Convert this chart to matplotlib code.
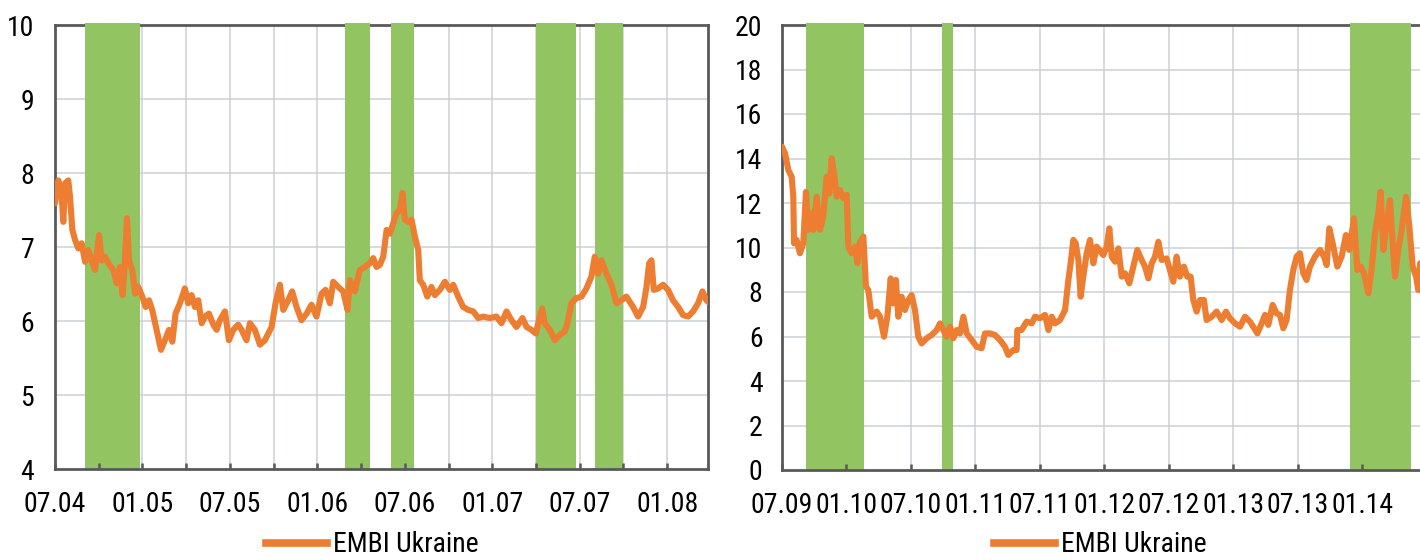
import numpy as np
import matplotlib
matplotlib.use("Agg")
import matplotlib.pyplot as plt
from matplotlib import font_manager
from matplotlib.lines import Line2D

# prefer a narrow sans face if the system has one
installed = {f.name for f in font_manager.fontManager.ttflist}
narrow = [n for n in ('Liberation Sans Narrow', 'Arial Narrow', 'DejaVu Sans Condensed',
                      'Roboto Condensed', 'Open Sans Condensed') if n in installed]
if narrow:
    plt.rcParams['font.family'] = [narrow[0], 'DejaVu Sans']
    FS = 20
else:
    plt.rcParams['font.family'] = ['Liberation Sans', 'DejaVu Sans']
    FS = 16.5

# ---- EMBI Ukraine, 07.2004 - 03.2008 (x = months since July 2004) ----
left_months = [
    0.0, 0.23, 0.46, 0.57, 0.69, 0.91, 1.03, 1.19, 1.37, 1.6, 1.83, 2.06, 2.29,
    2.51, 2.74, 3.02, 3.2, 3.43, 3.66, 4.0, 4.23, 4.46, 4.64, 4.8, 4.94, 5.07,
    5.3, 5.49, 5.71, 5.99, 6.22, 6.45, 6.67, 6.97, 7.27, 7.54, 7.82, 8.05, 8.27,
    8.57, 8.91, 9.14, 9.37, 9.6, 9.83, 10.06, 10.29, 10.56, 10.86, 11.09, 11.31,
    11.66, 11.93, 12.23, 12.57, 12.8, 13.14, 13.37, 13.71, 14.06, 14.4, 14.86,
    15.13, 15.43, 15.66, 16.0, 16.27, 16.57, 16.91, 17.26, 17.6, 17.94, 18.29,
    18.56, 18.86, 19.09, 19.43, 19.77, 20.07, 20.23, 20.57, 20.91, 21.26, 21.6,
    21.83, 22.06, 22.29, 22.52, 22.75, 22.98, 23.2, 23.43, 23.66, 23.84, 24.0,
    24.23, 24.46, 24.69, 24.92, 25.03, 25.26, 25.54, 25.83, 26.06, 26.4, 26.75,
    27.09, 27.32, 27.66, 28.0, 28.35, 28.69, 29.03, 29.38, 29.83, 30.29, 30.63,
    30.98, 31.32, 31.66, 32.07, 32.35, 32.69, 32.99, 33.26, 33.42, 33.6, 33.95,
    34.29, 34.63, 34.98, 35.2, 35.43, 35.78, 36.12, 36.46, 36.8, 37.03, 37.26,
    37.49, 37.83, 38.18, 38.52, 38.86, 39.2, 39.66, 40.0, 40.35, 40.58, 40.76,
    40.92, 41.08, 41.38, 41.72, 42.06, 42.4, 42.75, 43.09, 43.43, 43.78, 44.12,
    44.42, 44.69, 44.92,
]
left_spread = [
    7.59, 7.9, 7.68, 7.34, 7.86, 7.9, 7.68, 7.23, 7.1, 6.98, 7.05, 6.8, 6.96,
    6.82, 6.69, 7.16, 6.82, 6.87, 6.78, 6.69, 6.51, 6.73, 6.35, 6.82, 7.39, 6.82,
    6.69, 6.37, 6.46, 6.33, 6.19, 6.28, 6.15, 5.88, 5.61, 5.74, 5.88, 5.72, 6.1,
    6.24, 6.44, 6.24, 6.35, 6.19, 6.28, 5.97, 6.06, 6.1, 5.95, 5.88, 6.01,
    6.13, 5.74, 5.88, 5.95, 5.88, 5.74, 5.97, 5.88, 5.68, 5.74, 5.92,
    6.24, 6.49, 6.15, 6.28, 6.4, 6.19, 6.01, 6.1, 6.22, 6.06, 6.37,
    6.42, 6.24, 6.53, 6.46, 6.4, 6.15, 6.55, 6.4, 6.69, 6.73, 6.78,
    6.85, 6.73, 6.76, 6.87, 7.23, 7.18, 7.32, 7.46, 7.5, 7.73, 7.37,
    7.34, 7.37, 7.14, 6.96, 6.55, 6.49, 6.33, 6.46, 6.35, 6.42, 6.53,
    6.42, 6.49, 6.33, 6.19, 6.15, 6.13, 6.04, 6.06, 6.04, 6.06, 5.97,
    6.13, 6.01, 5.92, 6.04, 5.92, 5.88, 5.83, 6.06, 6.17, 5.97, 5.88,
    5.74, 5.81, 5.86, 6.01, 6.24, 6.31, 6.33, 6.44, 6.6, 6.87, 6.64,
    6.82, 6.64, 6.49, 6.24, 6.28, 6.33, 6.19, 6.06, 6.19, 6.46, 6.78,
    6.82, 6.42, 6.44, 6.49, 6.42, 6.28, 6.19, 6.08, 6.06, 6.13, 6.24,
    6.4, 6.28, 6.24,
]
left_bands = [(2.05, 5.83), (19.9, 21.6), (23.05, 24.6), (33.0, 35.75), (37.05, 38.95)]
left_ticks = ['07.04', '01.05', '07.05', '01.06', '07.06', '01.07', '07.07', '01.08']

# ---- EMBI Ukraine, 07.2009 - 06.2014 (x = months since July 2009) ----
right_months = [
    0.0, 0.28, 0.59, 0.9, 1.05, 1.12, 1.36, 1.67, 1.98, 2.23, 2.45, 2.76, 2.92,
    3.22, 3.53, 3.84, 4.15, 4.4, 4.62, 4.84, 5.09, 5.4, 5.71, 6.02, 6.17, 6.48,
    6.79, 7.01, 7.26, 7.57, 7.81, 8.03, 8.34, 8.81, 9.12, 9.49, 9.8, 10.11,
    10.36, 10.6, 10.82, 11.13, 11.44, 11.75, 12.06, 12.37, 12.68, 12.99, 13.46,
    13.92, 14.39, 14.7, 15.01, 15.32, 15.63, 15.94, 16.25, 16.56, 16.87, 17.18,
    17.64, 18.11, 18.57, 18.88, 19.35, 19.81, 20.28, 20.74, 21.05, 21.52, 21.83,
    21.89, 22.29, 22.76, 23.23, 23.53, 24.0, 24.47, 24.78, 25.09, 25.4, 25.86,
    26.33, 26.64, 26.85, 27.1, 27.32, 27.57, 27.78, 28.03, 28.34, 28.65, 28.96,
    29.27, 29.52, 29.89, 30.2, 30.45, 30.67, 30.98, 31.29, 31.6, 31.91, 32.31,
    32.68, 33.05, 33.46, 33.77, 34.08, 34.39, 34.7, 35.01, 35.32, 35.78, 36.09,
    36.4, 36.71, 37.02, 37.39, 37.7, 38.01, 38.26, 38.57, 38.88, 39.25, 39.5,
    39.97, 40.43, 40.9, 41.3, 41.67, 42.14, 42.6, 43.07, 43.53, 43.84, 44.22,
    44.62, 44.93, 45.24, 45.64, 46.01, 46.32, 46.63, 46.94, 47.25, 47.56, 47.87,
    48.18, 48.49, 48.8, 49.11, 49.58, 50.05, 50.42, 50.67, 50.91, 51.29, 51.66,
    52.06, 52.46, 52.77, 53.21, 53.52, 53.83, 54.14, 54.54, 54.85, 55.16, 55.47,
    55.69, 55.94, 56.25, 56.56, 56.81, 57.02, 57.33, 57.64, 58.05, 58.36, 58.67,
    58.98, 59.19, 59.35,
]
right_spread = [
    14.53, 14.23, 13.48, 13.18, 12.28, 10.19, 10.34, 9.74, 10.19, 12.5, 10.79,
    11.53, 10.79, 12.28, 10.79, 11.38, 13.18, 12.43, 14.01, 13.33, 12.28, 12.58,
    12.21, 12.36, 10.04, 9.74, 10.04, 9.29, 10.26, 10.49, 8.24, 8.09, 6.89,
    7.12, 6.89, 5.99, 6.89, 8.61, 7.49, 8.54, 6.89, 7.79, 7.19, 7.64, 7.86,
    7.19, 5.99, 5.69, 5.92, 6.07, 6.29, 6.59, 6.29, 5.99, 6.44, 5.92, 6.29,
    6.14, 6.89, 6.14, 5.84, 5.54, 5.47, 6.14, 6.14, 6.07, 5.84, 5.54, 5.17,
    5.39, 5.39, 6.29, 6.29, 6.67, 6.59, 6.89, 6.82, 6.97, 6.29, 6.89, 6.59,
    6.74, 7.19, 8.54, 9.29, 10.34, 10.19, 9.44, 7.79, 8.69, 9.74, 10.34, 9.29,
    10.04, 9.89, 9.66, 10.04, 10.86, 9.59, 9.36, 9.96, 8.69, 8.84, 8.39,
    9.14, 9.89, 9.44, 9.14, 8.61, 9.29, 9.59, 10.26, 9.44, 9.51, 8.99,
    8.46, 9.59, 8.69, 9.14, 8.69, 8.69, 7.64, 7.12, 7.64, 7.64, 6.74,
    6.89, 7.12, 6.74, 7.12, 6.82, 6.59, 6.44, 6.89, 6.67, 6.44, 6.14,
    6.59, 6.97, 6.52, 7.42, 7.04, 6.97, 6.37, 6.74, 8.09, 8.99, 9.59,
    9.74, 8.84, 8.54, 9.14, 9.59, 9.89, 9.59, 9.21, 10.86, 10.04, 9.14,
    9.59, 10.56, 9.89, 11.31, 8.99, 9.14, 8.84, 7.94, 8.99, 10.64, 11.53,
    12.5, 9.89, 11.08, 12.13, 10.19, 8.69, 9.89, 10.79, 12.28, 10.94, 9.14,
    8.69, 8.09, 9.29,
]
right_bands = [(2.2, 7.6), (14.9, 15.9), (52.8, 58.55)]
right_ticks = ['07.09', '01.10', '07.10', '01.11', '07.11', '01.12', '07.12', '01.13',
               '07.13', '01.14']

ORANGE = '#ED7D31'
GREEN = '#92C562'
GRID = '#CBCFD6'
SPINE = '#595959'

fig = plt.figure(figsize=(14.2, 5.6), dpi=100)
ax1 = fig.add_axes([55 / 1420, 1 - 469 / 560, 653 / 1420, 444 / 560])
ax2 = fig.add_axes([782 / 1420, 1 - 470 / 560, 638 / 1420, 445 / 560])


def draw_panel(ax, months, spread, bands, labels, xmax, ylim, ystep, minor, ypad):
    ax.set_xlim(0, xmax)
    ax.set_ylim(*ylim)
    yt = np.arange(ylim[0], ylim[1] + 0.01, ystep)
    major = np.arange(0, xmax, 6)
    ax.set_yticks(yt)
    ax.set_yticklabels([str(int(v)) for v in yt])
    ax.set_xticks(major)
    ax.set_xticklabels(labels[:len(major)])
    vgrid = list(major)
    if minor:
        qt = np.arange(3, xmax, 6)
        ax.set_xticks(qt, minor=True)
        vgrid += list(qt)

    # grid sits below the shaded periods
    for v in vgrid:
        if v > 0:
            ax.axvline(v, color=GRID, lw=1.1, zorder=0.6)
    for h in yt[1:]:
        ax.axhline(h, color=GRID, lw=1.1, zorder=0.6)

    for a, b in bands:
        ax.axvspan(a, b, ymin=0, ymax=1.004, color=GREEN, lw=0, zorder=1, clip_on=False)

    ax.plot(months, spread, color=ORANGE, lw=4.4, solid_joinstyle='round',
            solid_capstyle='round', zorder=4)

    for s in ax.spines.values():
        s.set_color(SPINE)
        s.set_linewidth(2)
    ax.spines['top'].set_zorder(0.8)

    ax.tick_params(axis='x', which='both', direction='in', length=4, width=1.8,
                   color=SPINE, labelsize=FS, pad=16)
    ax.tick_params(axis='y', length=0, labelsize=FS, pad=ypad)


draw_panel(ax1, left_months, left_spread, left_bands, left_ticks, 44.8, (4, 10), 1, True, 15)
draw_panel(ax2, right_months, right_spread, right_bands, right_ticks, 59.35, (0, 20), 2, False, 14)
ax2.spines['right'].set_visible(False)

handle = [Line2D([0], [0], color=ORANGE, lw=5.5)]
for cx in (372 / 1420, 1100 / 1420):
    fig.legend(handle, ['EMBI Ukraine'], loc='center', bbox_to_anchor=(cx, 0.027),
               frameon=False, fontsize=FS, handlelength=2.2, handletextpad=0.2,
               borderpad=0, borderaxespad=0)

fig.savefig('out.png', dpi=100)
